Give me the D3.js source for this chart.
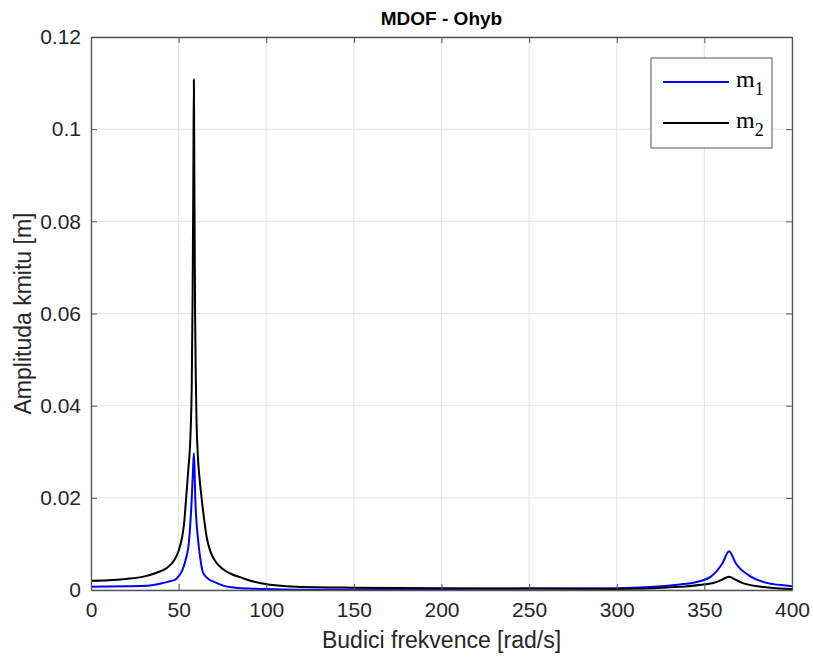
<!DOCTYPE html>
<meta charset="utf-8">
<style>
body { margin: 0; background: #fff; }
.tick text { font: 21px "Liberation Sans", Arial, sans-serif; fill: #262626; }
.grid line { stroke: #e3e3e3; }
.lab { font: 23px "Liberation Sans", Arial, sans-serif; fill: #262626; }
.title { font: bold 19px "Liberation Sans", Arial, sans-serif; fill: #000; }
.leg { font: 24px "Liberation Serif", "Times New Roman", serif; fill: #000; }
</style>
<body>
<script src="https://d3js.org/d3.v7.min.js"></script>
<script>

// m1 response
var w1 = [0, 20, 32, 41, 45, 48, 50, 52, 54, 56, 57.5, 58.2, 58.7, 59.1, 59.5, 61.1, 62.5, 64, 67, 70.6, 75, 80, 90, 100, 120, 140, 160, 200, 250, 300, 336, 345, 353.7, 360.3, 364.1, 367.9, 376.5, 385, 398, 400];
var m1 = [0.0007, 0.0008, 0.0009, 0.0015, 0.0019, 0.0022, 0.0030, 0.0042, 0.0065, 0.0109, 0.020, 0.026, 0.0297, 0.026, 0.020, 0.0109, 0.0065, 0.0037, 0.0024, 0.0017, 0.0010, 0.0006, 0.0003, 0.0002, 0.00005, 0.00005, 0.0001, 0.0002, 0.0003, 0.0004, 0.0012, 0.0017, 0.0029, 0.0058, 0.0084, 0.0058, 0.0029, 0.0016, 0.0009, 0.0008];

// m2 response
var w2 = [0, 10, 20, 30, 37, 43, 48, 50, 52, 53, 54.1, 55.5, 56.8, 57.5, 58.0, 58.4, 58.7, 59.0, 59.4, 59.8, 60.2, 61, 62, 63.1, 64.5, 66, 68, 70, 75, 81, 85, 90, 98, 117, 149, 200, 250, 300, 336, 355, 360, 364, 368, 372, 385, 400];
var m2 = [0.0020, 0.0021, 0.0024, 0.0029, 0.0037, 0.0047, 0.0068, 0.0085, 0.0115, 0.014, 0.019, 0.026, 0.034, 0.045, 0.065, 0.090, 0.1108, 0.088, 0.060, 0.046, 0.037, 0.029, 0.024, 0.020, 0.0155, 0.0115, 0.0085, 0.0068, 0.0046, 0.0033, 0.0028, 0.0021, 0.0014, 0.0007, 0.0005, 0.0004, 0.0003, 0.0002, 0.0007, 0.0015, 0.0022, 0.0029, 0.0022, 0.0015, 0.0006, 0.0002];

var xTicks = [0, 50, 100, 150, 200, 250, 300, 350, 400];
var yTicks = [0, 0.02, 0.04, 0.06, 0.08, 0.1, 0.12];
var seriesNames = ["1", "2"];
var seriesColors = ["#0000ff", "#000000"];

var width = 813, height = 657,
    margin = {top: 37, right: 21, bottom: 67, left: 91},
    iw = width - margin.left - margin.right,
    ih = height - margin.top - margin.bottom;

var svg = d3.select("body").append("svg")
    .attr("width", width)
    .attr("height", height);

var g = svg.append("g")
    .attr("transform", "translate(" + margin.left + "," + margin.top + ")");

var x = d3.scaleLinear().domain([0, 400]).range([0, iw]);
var y = d3.scaleLinear().domain([0, 0.12]).range([ih, 0]);

// grid
g.append("g").attr("class", "grid")
  .selectAll("line").data(xTicks).enter().append("line")
    .attr("x1", d => x(d)).attr("x2", d => x(d))
    .attr("y1", 0).attr("y2", ih);
g.append("g").attr("class", "grid")
  .selectAll("line").data(yTicks).enter().append("line")
    .attr("x1", 0).attr("x2", iw)
    .attr("y1", d => y(d)).attr("y2", d => y(d));

var line = d3.line()
    .x(d => x(d[0]))
    .y(d => y(d[1]))
    .curve(d3.curveMonotoneX);

var data = [d3.zip(w1, m1), d3.zip(w2, m2)];

g.append("g").selectAll("path").data(data).enter().append("path")
    .attr("d", line)
    .attr("fill", "none")
    .attr("stroke", (d, i) => seriesColors[i])
    .attr("stroke-width", 2)
    .attr("stroke-linejoin", "round");

// axes, ticks inside like matlab
g.append("g")
    .attr("transform", "translate(0," + ih + ")")
    .call(d3.axisBottom(x).tickValues(xTicks).tickSizeInner(-6).tickSizeOuter(0).tickPadding(12));
g.append("g")
    .call(d3.axisLeft(y).tickValues(yTicks).tickFormat(d => d3.format("")(+d.toFixed(2))).tickSizeInner(-6).tickSizeOuter(0).tickPadding(10));
g.append("g")
    .call(d3.axisTop(x).tickValues(xTicks).tickSizeInner(-6).tickSizeOuter(0).tickFormat(""));
g.append("g")
    .attr("transform", "translate(" + iw + ",0)")
    .call(d3.axisRight(y).tickValues(yTicks).tickSizeInner(-6).tickSizeOuter(0).tickFormat(""));

g.selectAll(".domain").attr("stroke", "#555").attr("stroke-width", 1.3);
g.selectAll(".tick line").attr("stroke", "#555");

// labels
svg.append("text").attr("class", "title")
    .attr("x", margin.left + iw / 2).attr("y", 25)
    .attr("text-anchor", "middle")
    .text("MDOF - Ohyb");

svg.append("text").attr("class", "lab")
    .attr("x", margin.left + iw / 2).attr("y", 648)
    .attr("text-anchor", "middle")
    .text("Budici frekvence [rad/s]");

svg.append("text").attr("class", "lab")
    .attr("transform", "translate(31," + (margin.top + ih / 2) + ")rotate(-90)")
    .attr("text-anchor", "middle")
    .text("Amplituda kmitu [m]");

// legend
var leg = svg.append("g").attr("transform", "translate(651,58)");
leg.append("rect")
    .attr("width", 121).attr("height", 90)
    .attr("fill", "#fff").attr("stroke", "#555").attr("stroke-width", 1);

var item = leg.selectAll(".item").data(seriesNames).enter().append("g")
    .attr("transform", (d, i) => "translate(0," + (24 + i * 41) + ")");
item.append("line")
    .attr("x1", 12).attr("x2", 78)
    .attr("stroke", (d, i) => seriesColors[i])
    .attr("stroke-width", 2);
var t = item.append("text").attr("class", "leg")
    .attr("x", 85).attr("y", 5);
t.append("tspan").text("m");
t.append("tspan").attr("dy", 8).style("font-size", "18px").text(d => d);

</script>
